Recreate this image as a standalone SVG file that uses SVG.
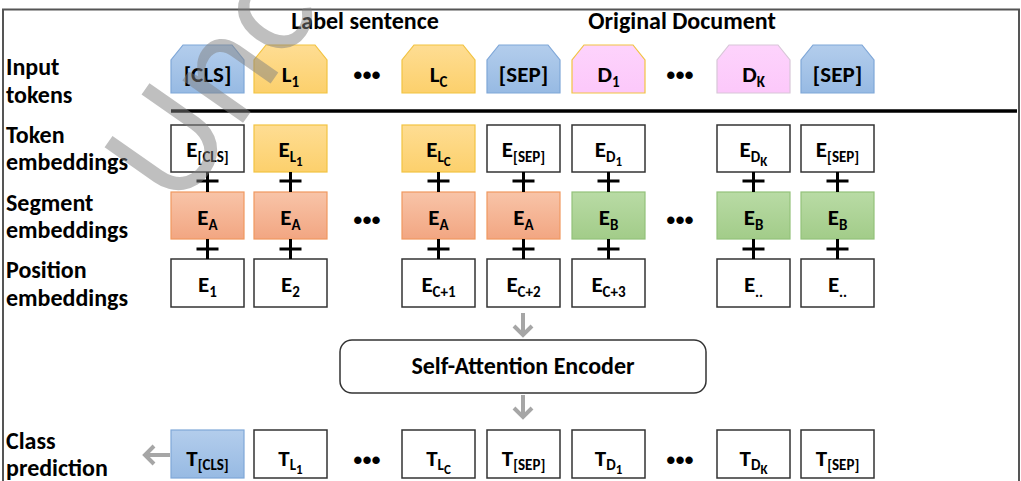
<svg xmlns="http://www.w3.org/2000/svg" width="1021" height="481" viewBox="0 0 1021 481">
<defs>
<linearGradient id="gBlue" x1="0" y1="0" x2="0" y2="1"><stop offset="0" stop-color="#b3cdec"/><stop offset="1" stop-color="#97bae3"/></linearGradient>
<linearGradient id="gYel" x1="0" y1="0" x2="0" y2="1"><stop offset="0" stop-color="#fedd93"/><stop offset="1" stop-color="#fcd06c"/></linearGradient>
<linearGradient id="gPink" x1="0" y1="0" x2="0" y2="1"><stop offset="0" stop-color="#fdd3fc"/><stop offset="1" stop-color="#fcc8fa"/></linearGradient>
<linearGradient id="gSal" x1="0" y1="0" x2="0" y2="1"><stop offset="0" stop-color="#f8c4a8"/><stop offset="1" stop-color="#f2a682"/></linearGradient>
<linearGradient id="gGrn" x1="0" y1="0" x2="0" y2="1"><stop offset="0" stop-color="#b9dba5"/><stop offset="1" stop-color="#a2cc89"/></linearGradient>
</defs>
<style>
text{font-family:Carlito,Lato,"Liberation Sans",sans-serif;font-weight:bold;fill:#000}
.lbl{font-size:24px}
.hdr{font-size:24px}
.tk{font-size:23px;text-anchor:middle}
.sub{font-size:15px}
.ss{font-size:13px}
.dots{font-family:"Liberation Sans",sans-serif;font-size:26px;text-anchor:middle}
.wbox{fill:#fff;stroke:#333;stroke-width:1.5}
.blue{fill:url(#gBlue);stroke:#7fa7d8;stroke-width:1.2}
.yel{fill:url(#gYel);stroke:#f2c341;stroke-width:1.2}
.pink{fill:url(#gPink);stroke:#f2c341;stroke-width:1.2}
.pink2{fill:url(#gPink);stroke:#d8c6d8;stroke-width:1.2}
.sal{fill:url(#gSal);stroke:#f0985f;stroke-width:1.2}
.grn{fill:url(#gGrn);stroke:#93c27b;stroke-width:1.2}
.plus{stroke:#000;stroke-width:3;fill:none}
.arr{stroke:#a6a6a6;stroke-width:4;fill:none;stroke-linejoin:miter}
</style>
<rect width="1021" height="481" fill="#fff"/>
<path d="M3,481 V9.5 H1019 V481" fill="none" stroke="#555" stroke-width="2"/>

<g id="row-labels">
<text class="lbl" x="6" y="75">Input</text>
<text class="lbl" x="6" y="103">tokens</text>
<text class="lbl" x="6" y="143">Token</text>
<text class="lbl" x="6" y="170">embeddings</text>
<text class="lbl" x="6" y="211">Segment</text>
<text class="lbl" x="6" y="238">embeddings</text>
<text class="lbl" x="6" y="278">Position</text>
<text class="lbl" x="6" y="306">embeddings</text>
<text class="lbl" x="6" y="449">Class</text>
<text class="lbl" x="6" y="476">prediction</text>
</g>
<g id="headers">
<text class="hdr" x="365" y="29" text-anchor="middle">Label sentence</text>
<text class="hdr" x="682" y="29" text-anchor="middle">Original Document</text>
</g>

<line x1="171" y1="111" x2="1017" y2="111" stroke="#000" stroke-width="3.5"/>

<!-- input tokens -->
<g id="in-cls"><path class="blue" d="M171,93 V60 L183,45 H232 L244,60 V93 Z"/><text class="tk" x="207.5" y="82">[CLS]</text></g>
<g id="in-l1"><path class="yel" d="M254,93 V60 L266,45 H315 L327,60 V93 Z"/><text class="tk" x="290.5" y="82">L<tspan class="sub" dy="5">1</tspan></text></g>
<g id="in-lc"><path class="yel" d="M402,93 V60 L414,45 H463 L475,60 V93 Z"/><text class="tk" x="438.5" y="82">L<tspan class="sub" dy="5">C</tspan></text></g>
<g id="in-sep1"><path class="blue" d="M487,93 V60 L499,45 H548 L560,60 V93 Z"/><text class="tk" x="523.5" y="82">[SEP]</text></g>
<g id="in-d1"><path class="pink" d="M572,93 V60 L584,45 H633 L645,60 V93 Z"/><text class="tk" x="608.5" y="82">D<tspan class="sub" dy="5">1</tspan></text></g>
<g id="in-dk"><path class="pink2" d="M717,93 V60 L729,45 H778 L790,60 V93 Z"/><text class="tk" x="753.5" y="82">D<tspan class="sub" dy="5">K</tspan></text></g>
<g id="in-sep2"><path class="blue" d="M801,93 V60 L813,45 H862 L874,60 V93 Z"/><text class="tk" x="837.5" y="82">[SEP]</text></g>

<!-- token embeddings -->
<g id="tok-cls"><rect class="wbox" x="171" y="125" width="73" height="47"/><text class="tk" x="207.5" y="157">E<tspan class="sub" dy="5">[CLS]</tspan></text></g>
<g id="tok-l1"><rect class="yel" x="254" y="125" width="73" height="47"/><text class="tk" x="290.5" y="157">E<tspan class="sub" dy="5">L</tspan><tspan class="ss" dy="4">1</tspan></text></g>
<g id="tok-lc"><rect class="yel" x="402" y="125" width="73" height="47"/><text class="tk" x="438.5" y="157">E<tspan class="sub" dy="5">L</tspan><tspan class="ss" dy="4">C</tspan></text></g>
<g id="tok-sep1"><rect class="wbox" x="487" y="125" width="73" height="47"/><text class="tk" x="523.5" y="157">E<tspan class="sub" dy="5">[SEP]</tspan></text></g>
<g id="tok-d1"><rect class="wbox" x="572" y="125" width="73" height="47"/><text class="tk" x="608.5" y="157">E<tspan class="sub" dy="5">D</tspan><tspan class="ss" dy="4">1</tspan></text></g>
<g id="tok-dk"><rect class="wbox" x="717" y="125" width="73" height="47"/><text class="tk" x="753.5" y="157">E<tspan class="sub" dy="5">D</tspan><tspan class="ss" dy="4">K</tspan></text></g>
<g id="tok-sep2"><rect class="wbox" x="801" y="125" width="73" height="47"/><text class="tk" x="837.5" y="157">E<tspan class="sub" dy="5">[SEP]</tspan></text></g>

<!-- segment embeddings -->
<g id="seg-1"><rect class="sal" x="171" y="192" width="73" height="47"/><text class="tk" x="207.5" y="225">E<tspan class="sub" dy="5">A</tspan></text></g>
<g id="seg-2"><rect class="sal" x="254" y="192" width="73" height="47"/><text class="tk" x="290.5" y="225">E<tspan class="sub" dy="5">A</tspan></text></g>
<g id="seg-3"><rect class="sal" x="402" y="192" width="73" height="47"/><text class="tk" x="438.5" y="225">E<tspan class="sub" dy="5">A</tspan></text></g>
<g id="seg-4"><rect class="sal" x="487" y="192" width="73" height="47"/><text class="tk" x="523.5" y="225">E<tspan class="sub" dy="5">A</tspan></text></g>
<g id="seg-5"><rect class="grn" x="572" y="192" width="73" height="47"/><text class="tk" x="608.5" y="225">E<tspan class="sub" dy="5">B</tspan></text></g>
<g id="seg-6"><rect class="grn" x="717" y="192" width="73" height="47"/><text class="tk" x="753.5" y="225">E<tspan class="sub" dy="5">B</tspan></text></g>
<g id="seg-7"><rect class="grn" x="801" y="192" width="73" height="47"/><text class="tk" x="837.5" y="225">E<tspan class="sub" dy="5">B</tspan></text></g>

<!-- position embeddings -->
<g id="pos-1"><rect class="wbox" x="171" y="259" width="73" height="48"/><text class="tk" x="207.5" y="292">E<tspan class="sub" dy="5">1</tspan></text></g>
<g id="pos-2"><rect class="wbox" x="254" y="259" width="73" height="48"/><text class="tk" x="290.5" y="292">E<tspan class="sub" dy="5">2</tspan></text></g>
<g id="pos-3"><rect class="wbox" x="402" y="259" width="73" height="48"/><text class="tk" x="438.5" y="292">E<tspan class="sub" dy="5">C+1</tspan></text></g>
<g id="pos-4"><rect class="wbox" x="487" y="259" width="73" height="48"/><text class="tk" x="523.5" y="292">E<tspan class="sub" dy="5">C+2</tspan></text></g>
<g id="pos-5"><rect class="wbox" x="572" y="259" width="73" height="48"/><text class="tk" x="608.5" y="292">E<tspan class="sub" dy="5">C+3</tspan></text></g>
<g id="pos-6"><rect class="wbox" x="717" y="259" width="73" height="48"/><text class="tk" x="753.5" y="292">E<tspan class="sub" dy="5">..</tspan></text></g>
<g id="pos-7"><rect class="wbox" x="801" y="259" width="73" height="48"/><text class="tk" x="837.5" y="292">E<tspan class="sub" dy="5">..</tspan></text></g>

<!-- encoder -->
<g id="encoder"><rect x="340" y="340" width="366" height="53" rx="12" fill="#fff" stroke="#333" stroke-width="1.5"/><text x="523" y="374" font-size="24px" text-anchor="middle">Self-Attention Encoder</text></g>

<!-- outputs -->
<g id="out-cls"><rect class="blue" x="171" y="430" width="73" height="48"/><text class="tk" x="207.5" y="466">T<tspan class="sub" dy="4">[CLS]</tspan></text></g>
<g id="out-l1"><rect class="wbox" x="254" y="430" width="73" height="48"/><text class="tk" x="290.5" y="466">T<tspan class="sub" dy="4">L</tspan><tspan class="ss" dy="4">1</tspan></text></g>
<g id="out-lc"><rect class="wbox" x="402" y="430" width="73" height="48"/><text class="tk" x="438.5" y="466">T<tspan class="sub" dy="4">L</tspan><tspan class="ss" dy="4">C</tspan></text></g>
<g id="out-sep1"><rect class="wbox" x="487" y="430" width="73" height="48"/><text class="tk" x="523.5" y="466">T<tspan class="sub" dy="4">[SEP]</tspan></text></g>
<g id="out-d1"><rect class="wbox" x="572" y="430" width="73" height="48"/><text class="tk" x="608.5" y="466">T<tspan class="sub" dy="4">D</tspan><tspan class="ss" dy="4">1</tspan></text></g>
<g id="out-dk"><rect class="wbox" x="717" y="430" width="73" height="48"/><text class="tk" x="753.5" y="466">T<tspan class="sub" dy="4">D</tspan><tspan class="ss" dy="4">K</tspan></text></g>
<g id="out-sep2"><rect class="wbox" x="801" y="430" width="73" height="48"/><text class="tk" x="837.5" y="466">T<tspan class="sub" dy="4">[SEP]</tspan></text></g>

<g id="ellipses">
<text class="dots" x="367" y="84">•••</text>
<text class="dots" x="680" y="84">•••</text>
<text class="dots" x="367" y="229">•••</text>
<text class="dots" x="680" y="229">•••</text>
<text class="dots" x="367" y="469">•••</text>
<text class="dots" x="680" y="469">•••</text>
</g>

<g id="connectors">
<path class="plus" d="M207.5,172 V192 M196.5,181 H218.5 M207.5,239 V259 M196.5,249 H218.5"/>
<path class="plus" d="M290.5,172 V192 M279.5,181 H301.5 M290.5,239 V259 M279.5,249 H301.5"/>
<path class="plus" d="M438.5,172 V192 M427.5,181 H449.5 M438.5,239 V259 M427.5,249 H449.5"/>
<path class="plus" d="M523.5,172 V192 M512.5,181 H534.5 M523.5,239 V259 M512.5,249 H534.5"/>
<path class="plus" d="M608.5,172 V192 M597.5,181 H619.5 M608.5,239 V259 M597.5,249 H619.5"/>
<path class="plus" d="M753.5,172 V192 M742.5,181 H764.5 M753.5,239 V259 M742.5,249 H764.5"/>
<path class="plus" d="M837.5,172 V192 M826.5,181 H848.5 M837.5,239 V259 M826.5,249 H848.5"/>
<path class="arr" d="M523,313 V335 M514,326 L523,335 L532,326"/>
<path class="arr" d="M523,395 V417 M514,408 L523,417 L532,408"/>
<path class="arr" d="M170,455 H145 M154,446 L145,455 L154,464"/>
</g>

<g id="watermark">
<text x="180" y="213" transform="rotate(-55 180 213)" font-family="Lato,sans-serif" font-size="155px" fill-opacity="0.5" style="font-weight:normal;fill:#808080">Uncorrected Proof</text>
</g>
</svg>
